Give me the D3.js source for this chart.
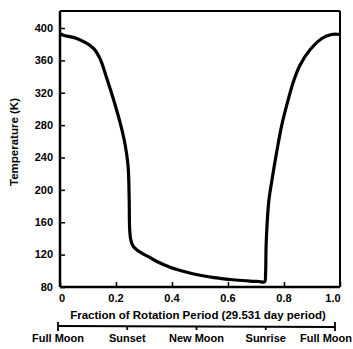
<!DOCTYPE html>
<html><head><meta charset="utf-8">
<script src="https://cdn.jsdelivr.net/npm/d3@7"></script>
<style>
html,body{margin:0;padding:0;background:#fff;}
text{font-family:"Liberation Sans",Arial,sans-serif;font-weight:bold;fill:#000;}
</style></head>
<body><svg id="c" width="353" height="349"></svg>
<script>
const fraction = [0, 0.012, 0.06, 0.119, 0.143, 0.167, 0.19, 0.214, 0.232, 0.243, 0.247, 0.249, 0.253, 0.262, 0.286, 0.321, 0.346, 0.393, 0.45, 0.5, 0.55, 0.607, 0.65, 0.679, 0.71, 0.731, 0.734, 0.736, 0.740, 0.746, 0.756, 0.774, 0.792, 0.81, 0.833, 0.857, 0.893, 0.935, 0.97, 1.0];
const temperature = [393, 391, 387, 375, 362, 338, 313, 284, 257, 230, 190, 150, 138, 130, 123, 116.5, 111.5, 104.5, 98.5, 94.5, 91.5, 89.3, 88, 87.3, 86.8, 86.5, 95, 130, 160, 187, 210, 247, 280, 305, 333, 354, 373, 387, 392, 392];
const xTicks = [0, 0.2, 0.4, 0.6, 0.8, 1.0];
const xTickLabels = ["0", "0.2", "0.4", "0.6", "0.8", "1.0"];
const yTicks = [80, 120, 160, 200, 240, 280, 320, 360, 400];
const phases = ["Full Moon", "Sunset", "New Moon", "Sunrise", "Full Moon"];
const xTitle = "Fraction of Rotation Period (29.531 day period)";
const yTitle = "Temperature (K)";

const svg = d3.select("#c");
const x = d3.scaleLinear().domain([0, 1]).range([60, 340]);
const y = d3.scaleLinear().domain([80, 400]).range([287, 28]);
const yTop = 421;

// frame
const g = svg.append("g");
g.append("line").attr("x1", x(0)).attr("x2", x(1)).attr("y1", y(yTop)).attr("y2", y(yTop)).attr("stroke", "#000").attr("stroke-width", 2);
g.append("line").attr("x1", x(1)).attr("x2", x(1)).attr("y1", y(yTop)).attr("y2", y(80)).attr("stroke", "#000").attr("stroke-width", 2);

// axes
const yAxis = d3.axisRight(y).tickValues(yTicks).tickSize(5).tickFormat("");
const ya = svg.append("g").attr("transform", `translate(${x(0)},0)`).call(yAxis);
ya.select(".domain").attr("d", `M0,${y(yTop)}V${y(80)}`).attr("stroke-width", 2.5);
ya.selectAll(".tick line").attr("stroke-width", 1.5);
svg.append("g").selectAll("text").data(yTicks).join("text")
  .attr("x", 53).attr("y", d => y(d)).attr("dy", "0.35em").attr("text-anchor", "end")
  .style("font-size", "11px").text(d => d);

const xAxis = d3.axisTop(x).tickValues(xTicks).tickSize(5).tickFormat("");
const xa = svg.append("g").attr("transform", `translate(0,${y(80)})`).call(xAxis);
xa.select(".domain").attr("d", `M${x(0)},0H${x(1)}`).attr("stroke-width", 2.5);
xa.selectAll(".tick line").attr("stroke-width", 1.5);
svg.append("g").selectAll("text").data(xTicks).join("text")
  .attr("x", (d, i) => x(d) + (i === 0 ? 2 : (i === xTicks.length - 1 ? -7 : 0)))
  .attr("y", 302).attr("text-anchor", "middle")
  .style("font-size", "11px").text((d, i) => xTickLabels[i]);

svg.append("text").attr("x", 198).attr("y", 319).attr("text-anchor", "middle")
  .style("font-size", "11.5px").text(xTitle);
svg.append("text").attr("transform", "translate(18,142) rotate(-90)").attr("text-anchor", "middle")
  .style("font-size", "11.5px").text(yTitle);

// phase bracket
const p = d3.scalePoint().domain(d3.range(phases.length)).range([58, 335]);
svg.append("line").attr("x1", p(0)).attr("x2", p(phases.length - 1)).attr("y1", 326).attr("y2", 327)
  .attr("stroke", "#000").attr("stroke-width", 1.8);
svg.append("g").selectAll("line").data(d3.range(phases.length)).join("line")
  .attr("x1", d => p(d)).attr("x2", d => p(d))
  .attr("y1", (d, i) => (i === 0 || i === phases.length - 1) ? 322 : 326)
  .attr("y2", (d, i) => (i === 0 || i === phases.length - 1) ? 331 : 330)
  .attr("stroke", "#000").attr("stroke-width", 1.8);
svg.append("g").selectAll("text").data(phases).join("text")
  .attr("x", (d, i) => p(i) + (i === phases.length - 1 ? -9 : 0)).attr("y", 342).attr("text-anchor", "middle")
  .style("font-size", "11px").text(d => d);

// curve
const data = fraction.map((f, i) => [f, temperature[i]]);
const line = d3.line().x(d => x(d[0])).y(d => y(d[1])).curve(d3.curveCatmullRom.alpha(0.5));
svg.append("path").datum(data).attr("d", line).attr("fill", "none")
  .attr("stroke", "#000").attr("stroke-width", 3.2).attr("stroke-linejoin", "round");
</script></body></html>
